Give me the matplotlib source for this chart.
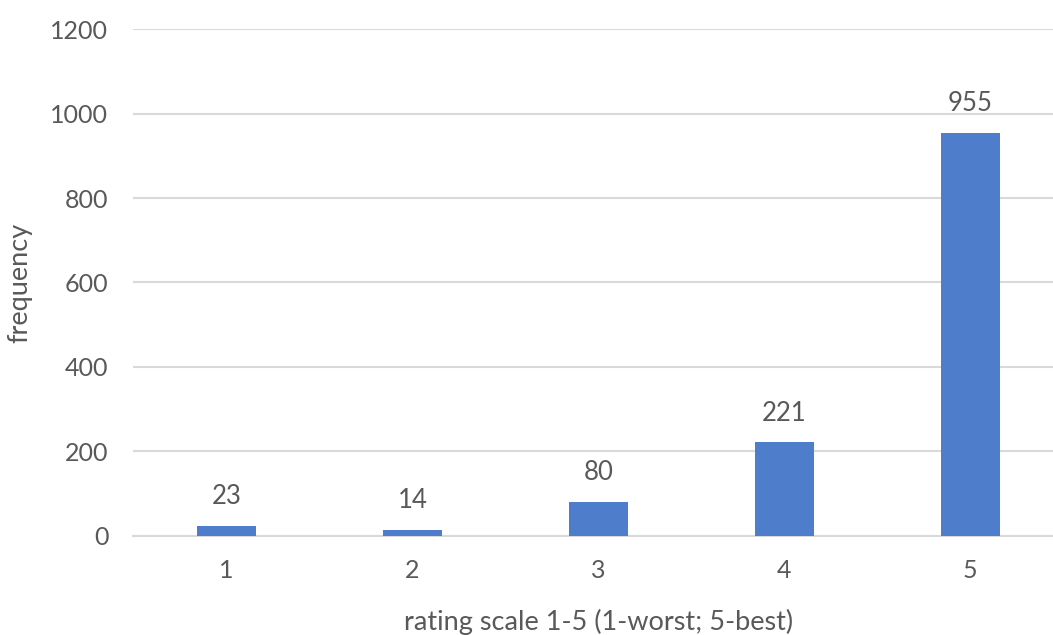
import numpy as np
import matplotlib.pyplot as plt

# rating counts
ratings = ['1', '2', '3', '4', '5']
counts = [23, 14, 80, 221, 955]

plt.rcParams['font.family'] = ['Lato', 'DejaVu Sans']
grey = '#595959'

fig = plt.figure(figsize=(10.53, 6.35), dpi=100)
ax = fig.add_axes([0.1266, 0.1564, 0.8832, 0.7975])

x = np.arange(1, len(ratings) + 1)
bars = ax.bar(x, counts, width=0.32, color='#4e7dcb', zorder=3)

for xi, c in zip(x, counts):
    ax.annotate(str(c), (xi, c), xytext=(0, 21), textcoords='offset points',
                ha='center', va='center', fontsize=18.5, color=grey)

ax.set_xlim(0.5, 5.5)
ax.set_ylim(0, 1200)
ax.set_yticks(np.arange(0, 1201, 200))
ax.set_xticks(x)
ax.set_xticklabels(ratings)

ax.grid(axis='y', color='#d9d9d9', linewidth=1.5, zorder=0)
for s in ['top', 'right', 'left']:
    ax.spines[s].set_visible(False)
ax.spines['bottom'].set_color('#d9d9d9')
ax.spines['bottom'].set_linewidth(1.5)

ax.tick_params(axis='both', length=0, labelsize=18, colors=grey)
ax.tick_params(axis='y', pad=18)
ax.tick_params(axis='x', pad=17)

ax.set_xlabel('rating scale 1-5 (1-worst; 5-best)', fontsize=19.5, color=grey,
              labelpad=19)
ax.set_ylabel('frequency', fontsize=19.5, color=grey, labelpad=13)

fig.savefig('out.png', dpi=100)
